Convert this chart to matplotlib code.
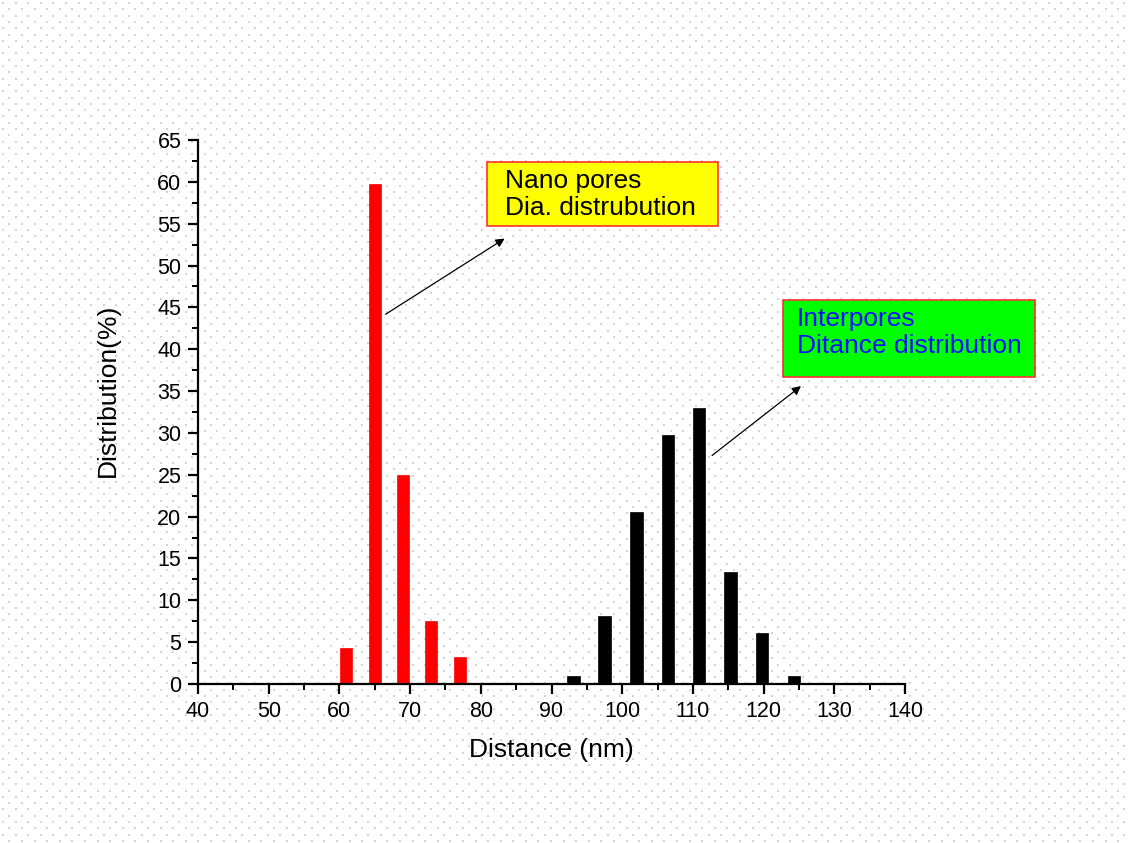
"""
Nano pore diameter / interpore distance distribution
"""
import numpy as np
import matplotlib
matplotlib.use("Agg")
import matplotlib.pyplot as plt
from matplotlib.patches import Rectangle

plt.rcParams['font.family'] = ['Liberation Sans', 'DejaVu Sans']

# pore diameter distribution (red)
dia_x = [61, 65, 69, 73, 77]
dia_y = [4.3, 59.8, 25.0, 7.5, 3.2]

# interpore distance distribution (black)
dist_x = [93.1, 97.5, 102.0, 106.5, 110.9, 115.3, 119.8, 124.3]
dist_y = [1.0, 8.1, 20.5, 29.8, 33.0, 13.4, 6.1, 1.0]

x_ticks = np.arange(40, 141, 10)
y_ticks = np.arange(0, 66, 5)

W, H = 1128, 843
fig = plt.figure(figsize=(W / 100, H / 100), dpi=100)

# dotted page background
bg = fig.add_axes([0, 0, 1, 1], zorder=-10)
bg.set_xlim(0, W)
bg.set_ylim(H, 0)
bg.axis('off')
gx, gy = np.meshgrid(np.arange(3, W, 12.6), np.arange(3, H, 6.3))
gx = gx + (np.arange(gy.shape[0])[:, None] % 2) * 6.3
bg.scatter(gx.ravel(), gy.ravel(), s=2.0, c='#d4d4d4', marker='s', linewidths=0)

ax = fig.add_axes([198 / W, 1 - 684 / H, 707 / W, 544 / H])
ax.patch.set_alpha(0)

ax.bar(dia_x, dia_y, width=1.7, color='#ff0000', edgecolor='#ff0000', linewidth=0.5)
ax.bar(dist_x, dist_y, width=1.75, color='black', edgecolor='black', linewidth=0.5)

ax.set_xlim(40, 140)
ax.set_ylim(0, 65)
ax.set_xticks(x_ticks)
ax.set_xticks(np.arange(45, 140, 10), minor=True)
ax.set_yticks(y_ticks)
ax.set_yticks(np.arange(2.5, 65, 5), minor=True)

for s in ['top', 'right']:
    ax.spines[s].set_visible(False)
for s in ['left', 'bottom']:
    ax.spines[s].set_linewidth(1.6)

ax.tick_params(which='major', direction='out', length=7, width=1.6, labelsize=15.5, pad=5)
ax.tick_params(which='minor', direction='out', length=4, width=1.4)

ax.set_xlabel('Distance (nm)', fontsize=19, va='center')
ax.set_ylabel('Distribution(%)', fontsize=19, va='center')
ax.xaxis.set_label_coords(0.5, (684 - 750) / 544)
ax.yaxis.set_label_coords((108 - 198) / 707, (684 - 390) / 544)

# label boxes
ax.add_patch(Rectangle((80.9, 54.7), 32.7, 7.65, facecolor='#ffff00',
                       edgecolor='#ff3030', lw=1.2, clip_on=False, zorder=3))
ax.text(83.4, 58.45, 'Nano pores\nDia. distrubution', fontsize=19,
        color='black', va='center', ha='left', linespacing=1.15, zorder=4)

ax.add_patch(Rectangle((122.75, 36.7), 35.65, 9.2, facecolor='#00ff00',
                       edgecolor='#ff3030', lw=1.2, clip_on=False, zorder=3))
ax.text(124.7, 42.0, 'Interpores\nDitance distribution', fontsize=19,
        color='#1010ff', va='center', ha='left', linespacing=1.2, zorder=4,
        clip_on=False)

arrow = dict(arrowstyle='-|>', color='black', lw=0.9, mutation_scale=13)
ax.annotate('', xy=(83.7, 53.4), xytext=(66.2, 44.0), arrowprops=arrow)
ax.annotate('', xy=(125.6, 35.8), xytext=(112.4, 27.1), arrowprops=arrow,
            annotation_clip=False)

fig.savefig('out.png', dpi=100)
